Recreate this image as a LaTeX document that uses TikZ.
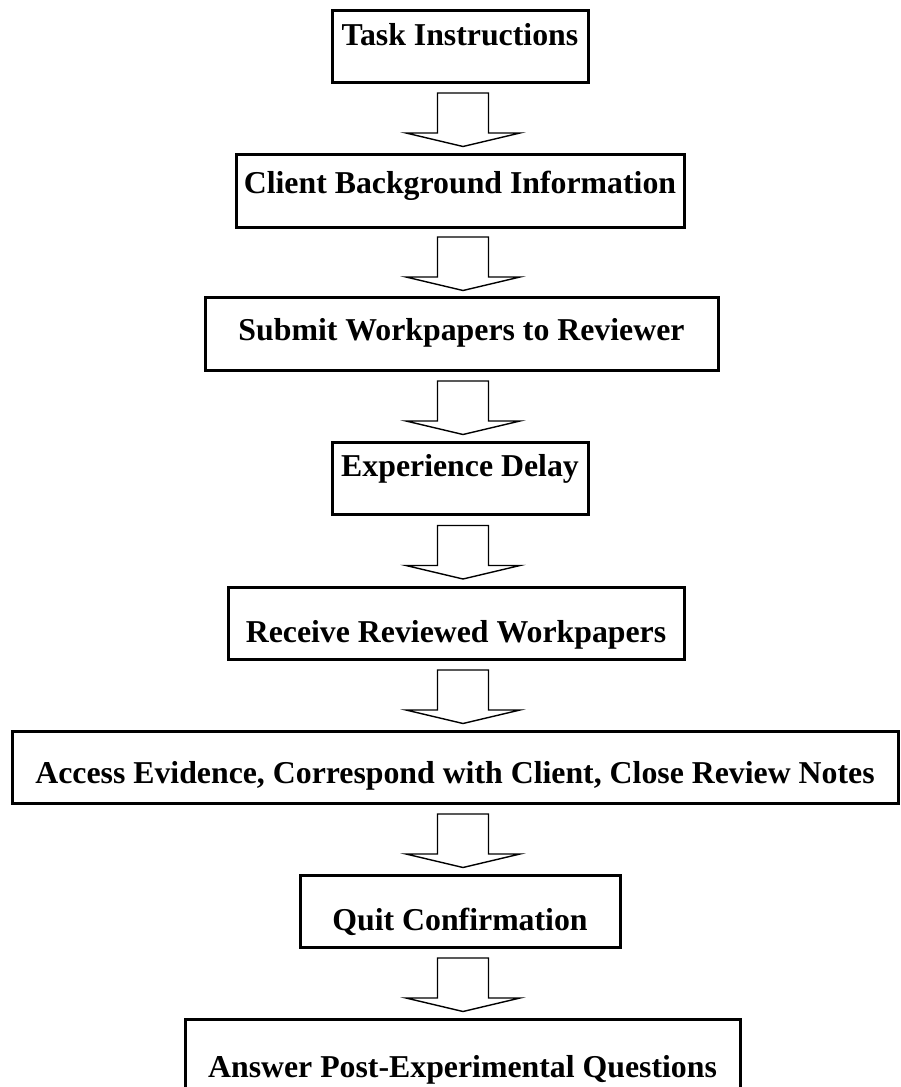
\documentclass[tikz,border=0pt]{standalone}
\usepackage{fontspec}
\setmainfont{Liberation Serif}
\usetikzlibrary{calc}

% hollow block arrow between two stages
\newcommand{\flowarrow}[2]{%
  \draw[hollow] let \p1=($(#1.south)!0.5!(#2.north)$), \p2=(axis) in
    (\x2-25.5pt,\y1+25pt) -- (\x2+25.5pt,\y1+25pt) -- (\x2+25.5pt,\y1-15pt)
    -- (\x2+57pt,\y1-15pt) -- (\x2,\y1-28.5pt) -- (\x2-57pt,\y1-15pt)
    -- (\x2-25.5pt,\y1-15pt) -- cycle;}

\begin{document}
\begin{tikzpicture}[x=1pt, y=1pt,
  stagebox/.style={draw, line width=3pt, inner sep=0pt, anchor=base,
    font=\fontsize{31.8}{38}\selectfont\bfseries},
  hollow/.style={draw, line width=1.4pt, line join=miter, fill=white}]

\def\ax{463}

\useasboundingbox (0,0) rectangle (901,-1087);
\coordinate (axis) at (\ax,0);

%==== stages ====
\node[stagebox, minimum width=256pt, text height=35pt, text depth=37pt]
  (instr) at (460,-45) {Task Instructions};
\node[stagebox, minimum width=448pt, text height=39pt, text depth=34pt]
  (client) at (460,-193) {Client Background Information};
\node[stagebox, minimum width=513pt, text height=43pt, text depth=30pt]
  (submit) at (461.5,-340) {Submit Workpapers to Reviewer};
\node[stagebox, minimum width=256pt, text height=34pt, text depth=38pt]
  (delay) at (460,-476) {Experience Delay};
\node[stagebox, minimum width=456pt, text height=55pt, text depth=17pt]
  (receive) at (456,-642) {Receive Reviewed Workpapers};
\node[stagebox, minimum width=886pt, text height=52pt, text depth=20pt]
  (access) at (455,-783) {Access Evidence, Correspond with Client, Close Review Notes};
\node[stagebox, minimum width=320pt, text height=55pt, text depth=17pt]
  (quit) at (460,-930) {Quit Confirmation};
\node[stagebox, minimum width=555pt, text height=58pt, text depth=15pt]
  (answer) at (462.5,-1077) {Answer Post-Experimental Questions};

%==== arrows ====
\flowarrow{instr}{client}
\flowarrow{client}{submit}
\flowarrow{submit}{delay}
\flowarrow{delay}{receive}
\flowarrow{receive}{access}
\flowarrow{access}{quit}
\flowarrow{quit}{answer}

\end{tikzpicture}
\end{document}
